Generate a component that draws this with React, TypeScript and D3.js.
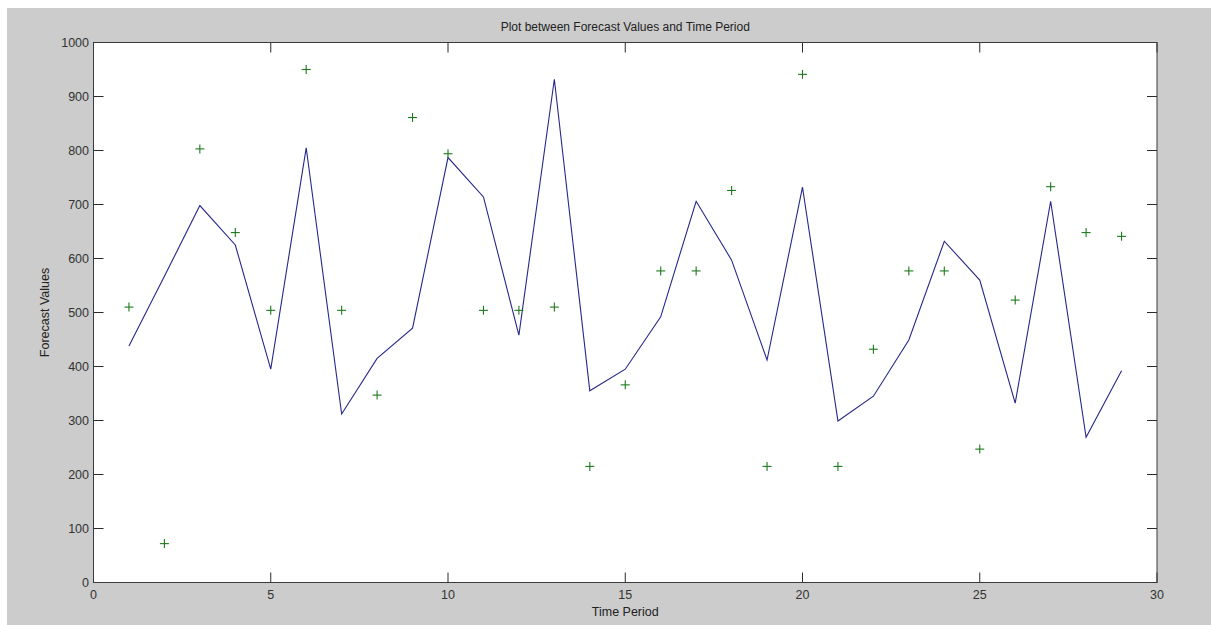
import React from 'react';
import * as d3 from 'd3';

// time periods 1..29
const periods = [1, 2, 3, 4, 5, 6, 7, 8, 9, 10, 11, 12, 13, 14, 15, 16, 17, 18, 19, 20, 21, 22, 23, 24, 25, 26, 27, 28, 29];
// forecast line (blue)
const forecast = [438, 567, 698, 625, 395, 805, 312, 415, 471, 787, 714, 458, 932, 355, 395, 492, 706, 597, 412, 732, 299, 345, 449, 632, 560, 332, 706, 269, 392];
// actual points (green +)
const actual = [510, 72, 803, 648, 504, 950, 504, 347, 861, 794, 504, 504, 510, 215, 366, 577, 577, 726, 215, 941, 215, 432, 577, 577, 247, 523, 733, 648, 641];
const xTicks = [0, 5, 10, 15, 20, 25, 30];
const yTicks = [0, 100, 200, 300, 400, 500, 600, 700, 800, 900, 1000];

export default function App() {
  // page coordinates, svg is pinned to the top-left corner
  const left = 93.5, right = 1157, top = 42.5, bottom = 582.5;
  const x = d3.scaleLinear().domain([0, 30]).range([left, right]);
  const y = d3.scaleLinear().domain([0, 1000]).range([bottom, top]);
  const line = d3.line<number>().x((d, i) => x(periods[i])).y(d => y(d));
  const tickLen = 10;
  const font = 'Arial, "Liberation Sans", sans-serif';

  return (
    <svg width={1211} height={625} style={{ position: 'absolute', left: 0, top: 0, display: 'block' }}>
      <rect x={0} y={0} width={1211} height={625} fill="#ffffff" />
      <rect x={7} y={8} width={1204} height={617} fill="#cccccc" />
      <rect x={left} y={top} width={right - left} height={bottom - top} fill="#ffffff" />

      <path d={line(forecast) || ''} fill="none" stroke="#27278a" strokeWidth={1.1} />
      {actual.map((v, i) => {
        const cx = x(periods[i]), cy = y(v);
        return (
          <g key={i} stroke="#1c7a1c" strokeWidth={1.1}>
            <line x1={cx - 4.5} x2={cx + 4.5} y1={cy} y2={cy} />
            <line x1={cx} x2={cx} y1={cy - 4.5} y2={cy + 4.5} />
          </g>
        );
      })}

      {/* ticks on all four sides, pointing in */}
      <g stroke="#2a2a2a" strokeWidth={1}>
        {xTicks.map(t => (
          <g key={'x' + t}>
            <line x1={x(t)} x2={x(t)} y1={bottom} y2={bottom - tickLen} />
            <line x1={x(t)} x2={x(t)} y1={top} y2={top + tickLen} />
          </g>
        ))}
        {yTicks.map(t => (
          <g key={'y' + t}>
            <line x1={left} x2={left + tickLen} y1={y(t)} y2={y(t)} />
            <line x1={right} x2={right - tickLen} y1={y(t)} y2={y(t)} />
          </g>
        ))}
      </g>
      <rect x={left} y={top} width={right - left} height={bottom - top} fill="none" stroke="#3a3a3a" strokeWidth={1} />

      <g fontFamily={font} fontSize={12.5} fill="#333">
        {xTicks.map(t => (
          <text key={'xl' + t} x={x(t)} y={599} textAnchor="middle">{t}</text>
        ))}
        {yTicks.map(t => (
          <text key={'yl' + t} x={89} y={y(t) + 4.5} textAnchor="end">{t}</text>
        ))}
      </g>

      <text x={(left + right) / 2} y={31} textAnchor="middle" fontFamily={font} fontSize={12} fill="#222">
        Plot between Forecast Values and Time Period
      </text>
      <text x={(left + right) / 2} y={616} textAnchor="middle" fontFamily={font} fontSize={12.5} fill="#222">
        Time Period
      </text>
      <text transform={`translate(49,${(top + bottom) / 2}) rotate(-90)`} textAnchor="middle" fontFamily={font} fontSize={12.5} fill="#222">
        Forecast Values
      </text>
    </svg>
  );
}
